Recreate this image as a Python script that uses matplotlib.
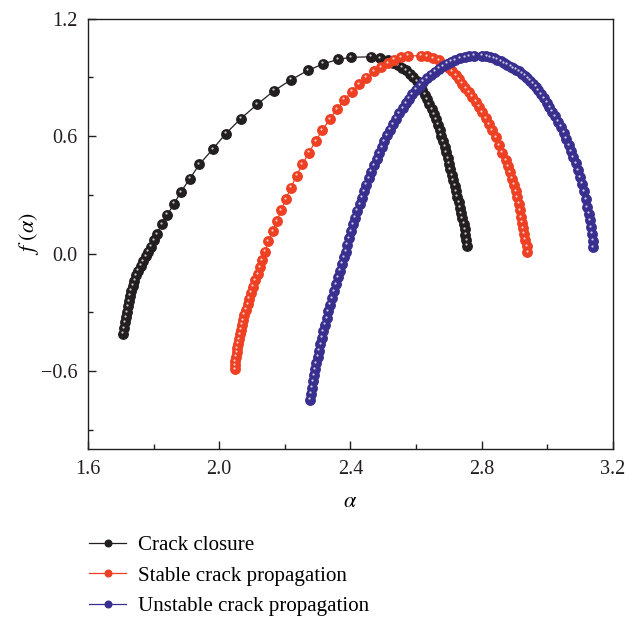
import matplotlib
matplotlib.use('Agg')
import matplotlib.pyplot as plt
from matplotlib.transforms import offset_copy
from matplotlib.ticker import MultipleLocator

# crack closure
closure_alpha = [1.708, 1.710, 1.712, 1.715, 1.718, 1.721, 1.724, 1.728, 1.732, 1.737,
                 1.742, 1.748, 1.754, 1.761, 1.768, 1.776, 1.784, 1.792, 1.800, 1.810,
                 1.825, 1.842, 1.863, 1.883, 1.911, 1.940, 1.980, 2.020, 2.066, 2.116,
                 2.167, 2.219, 2.270, 2.318, 2.361, 2.402, 2.464, 2.490, 2.514, 2.530,
                 2.545, 2.558, 2.570, 2.581, 2.592, 2.602, 2.611, 2.619, 2.627, 2.634,
                 2.641, 2.648, 2.654, 2.660, 2.666, 2.672, 2.677, 2.682, 2.687, 2.692,
                 2.697, 2.701, 2.705, 2.710, 2.714, 2.718, 2.722, 2.726, 2.730, 2.734,
                 2.738, 2.741, 2.745, 2.748, 2.751, 2.754, 2.756]
closure_f = [-0.410, -0.380, -0.352, -0.325, -0.298, -0.270, -0.243, -0.216, -0.190, -0.164,
             -0.138, -0.112, -0.087, -0.062, -0.038, -0.014, 0.010, 0.036, 0.068, 0.100,
             0.149, 0.198, 0.255, 0.314, 0.383, 0.456, 0.532, 0.612, 0.689, 0.762,
             0.831, 0.887, 0.935, 0.969, 0.991, 1.002, 1.005, 0.998, 0.986, 0.975,
             0.962, 0.950, 0.935, 0.918, 0.900, 0.880, 0.858, 0.836, 0.812, 0.788,
             0.763, 0.737, 0.711, 0.685, 0.658, 0.630, 0.602, 0.574, 0.546, 0.517,
             0.488, 0.459, 0.430, 0.400, 0.375, 0.347, 0.318, 0.290, 0.262, 0.235,
             0.207, 0.180, 0.152, 0.124, 0.096, 0.068, 0.041]

# stable crack propagation
stable_alpha = [2.047, 2.048, 2.049, 2.051, 2.053, 2.055, 2.057, 2.060, 2.063, 2.066,
                2.069, 2.073, 2.077, 2.082, 2.087, 2.092, 2.098, 2.104, 2.110, 2.117,
                2.124, 2.131, 2.140, 2.150, 2.163, 2.176, 2.189, 2.203, 2.219, 2.236,
                2.254, 2.274, 2.294, 2.315, 2.337, 2.359, 2.382, 2.404, 2.427, 2.449,
                2.471, 2.492, 2.514, 2.534, 2.555, 2.576, 2.614, 2.634, 2.653, 2.670,
                2.690, 2.701, 2.711, 2.721, 2.731, 2.741, 2.751, 2.762, 2.772, 2.782,
                2.792, 2.802, 2.812, 2.822, 2.833, 2.843, 2.853, 2.863, 2.873, 2.880,
                2.887, 2.894, 2.899, 2.904, 2.909, 2.913, 2.916, 2.919, 2.923, 2.926,
                2.929, 2.933, 2.937, 2.940]
stable_f = [-0.591, -0.570, -0.549, -0.527, -0.505, -0.483, -0.460, -0.437, -0.413, -0.389,
            -0.364, -0.339, -0.313, -0.286, -0.259, -0.230, -0.200, -0.169, -0.137, -0.104,
            -0.070, -0.035, 0.010, 0.063, 0.114, 0.166, 0.221, 0.277, 0.337, 0.398,
            0.456, 0.516, 0.574, 0.631, 0.686, 0.737, 0.785, 0.826, 0.865, 0.899,
            0.930, 0.952, 0.973, 0.990, 1.004, 1.010, 1.010, 1.007, 0.998, 0.986,
            0.964, 0.948, 0.930, 0.911, 0.891, 0.868, 0.845, 0.824, 0.802, 0.776,
            0.750, 0.721, 0.691, 0.661, 0.631, 0.593, 0.554, 0.516, 0.477, 0.446,
            0.414, 0.383, 0.352, 0.320, 0.289, 0.255, 0.220, 0.186, 0.158, 0.130,
            0.101, 0.070, 0.038, 0.007]

# unstable crack propagation
unstable_alpha = [2.278, 2.280, 2.283, 2.286, 2.289, 2.292, 2.296, 2.300, 2.304, 2.309,
                  2.313, 2.318, 2.323, 2.328, 2.333, 2.339, 2.344, 2.350, 2.356, 2.362,
                  2.368, 2.374, 2.380, 2.386, 2.391, 2.397, 2.403, 2.409, 2.415, 2.421,
                  2.428, 2.435, 2.442, 2.449, 2.456, 2.464, 2.472, 2.480, 2.488, 2.496,
                  2.504, 2.513, 2.522, 2.531, 2.540, 2.549, 2.559, 2.569, 2.579, 2.589,
                  2.600, 2.611, 2.622, 2.633, 2.645, 2.657, 2.669, 2.681, 2.694, 2.707,
                  2.720, 2.734, 2.748, 2.762, 2.776, 2.802, 2.815, 2.827, 2.838, 2.848,
                  2.858, 2.868, 2.878, 2.889, 2.897, 2.906, 2.914, 2.923, 2.931, 2.940,
                  2.948, 2.957, 2.965, 2.973, 2.982, 2.990, 2.999, 3.007, 3.016, 3.024,
                  3.033, 3.041, 3.050, 3.058, 3.067, 3.074, 3.080, 3.087, 3.094, 3.100,
                  3.107, 3.112, 3.117, 3.122, 3.126, 3.131, 3.135, 3.137, 3.139, 3.141]
unstable_f = [-0.746, -0.715, -0.684, -0.653, -0.622, -0.591, -0.559, -0.527, -0.495, -0.462,
              -0.429, -0.396, -0.363, -0.329, -0.295, -0.261, -0.227, -0.192, -0.157, -0.122,
              -0.087, -0.052, -0.017, 0.010, 0.045, 0.080, 0.115, 0.150, 0.184, 0.218,
              0.252, 0.286, 0.319, 0.352, 0.385, 0.418, 0.450, 0.482, 0.513, 0.544,
              0.574, 0.604, 0.633, 0.661, 0.689, 0.716, 0.742, 0.767, 0.791, 0.814,
              0.836, 0.857, 0.877, 0.896, 0.913, 0.929, 0.944, 0.957, 0.969, 0.980,
              0.989, 0.997, 1.003, 1.007, 1.010, 1.010, 1.008, 1.004, 0.998, 0.990,
              0.981, 0.973, 0.964, 0.955, 0.947, 0.939, 0.930, 0.919, 0.908, 0.896,
              0.883, 0.868, 0.853, 0.834, 0.814, 0.793, 0.771, 0.748, 0.725, 0.700,
              0.674, 0.648, 0.617, 0.586, 0.554, 0.523, 0.492, 0.460, 0.426, 0.391,
              0.357, 0.317, 0.277, 0.237, 0.203, 0.169, 0.135, 0.101, 0.066, 0.032]

labels = ['Crack closure', 'Stable crack propagation', 'Unstable crack propagation']
colors = ['#231f20', '#ee4023', '#392f8f']

plt.rcParams['font.family'] = ['Liberation Serif', 'DejaVu Serif']
plt.rcParams['mathtext.fontset'] = 'stix'

fig = plt.figure(figsize=(6.37, 6.19), dpi=100)
ax = fig.add_axes([0.138, 0.274, 0.824, 0.696])

series = [(closure_alpha, closure_f), (stable_alpha, stable_f), (unstable_alpha, unstable_f)]
shine = offset_copy(ax.transData, fig=fig, x=-0.7, y=1.0, units='points')
for (a, f), lab, c in zip(series, labels, colors):
    ax.plot(a, f, '-o', color=c, lw=0.9, ms=6.8, mec=c, mfc=c, label=lab)
    ax.plot(a, f, 'o', color='white', ms=1.6, mew=0, alpha=0.75, transform=shine)

ax.set_xlim(1.6, 3.2)
ax.set_ylim(-1.0, 1.2)
ax.xaxis.set_minor_locator(MultipleLocator(0.2))
ax.yaxis.set_minor_locator(MultipleLocator(0.3))
ax.set_xticks([1.6, 2.0, 2.4, 2.8, 3.2])
ax.set_yticks([-0.6, 0.0, 0.6, 1.2])
ax.set_yticklabels(['\u22120.6', '0.0', '0.6', '1.2'])
ax.tick_params(which='both', direction='in', top=False, right=False, labelsize=14.5, colors='#231f20')
ax.tick_params(which='major', length=6, width=1.0, pad=7.5)
ax.tick_params(which='minor', length=3.5, width=1.0)
for s in ax.spines.values():
    s.set_linewidth(1.0)
    s.set_color('#231f20')

ax.set_xlabel(r'$\alpha$', fontsize=16, labelpad=10)
ax.set_ylabel(r'$f\ (\alpha)$', fontsize=16, labelpad=0)

ax.legend(loc='upper left', bbox_to_anchor=(-0.013, -0.18), frameon=False,
          fontsize=15.1, handlelength=1.75, handletextpad=0.55, labelspacing=0.52,
          borderaxespad=0, markerscale=0.7)

fig.savefig('out.png', dpi=100)
